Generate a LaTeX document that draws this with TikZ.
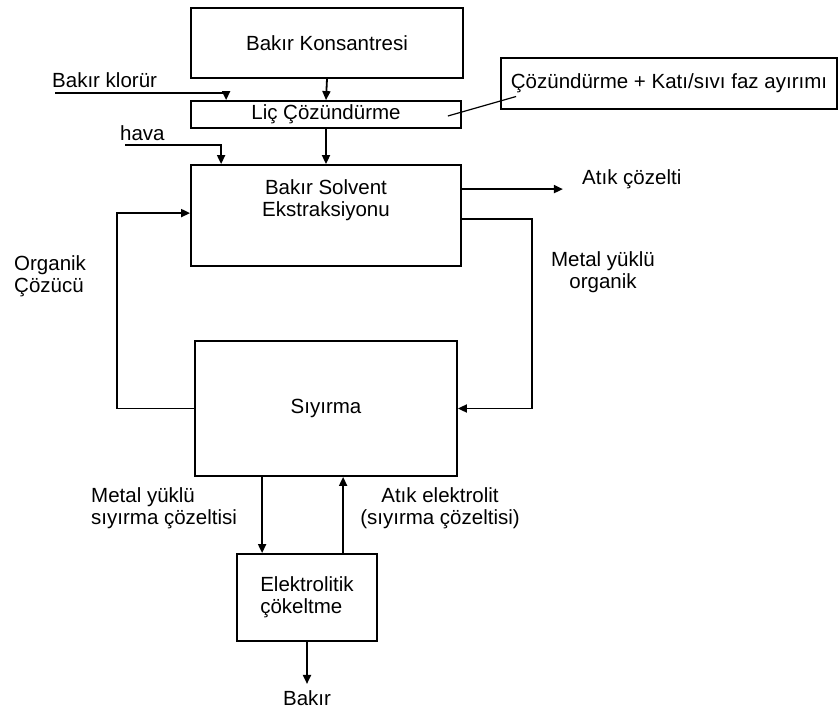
\documentclass[tikz,border=0pt]{standalone}
\usepackage{fontspec}
\setmainfont{Liberation Sans}
\usetikzlibrary{arrows.meta, positioning, calc}

\begin{document}
\begin{tikzpicture}[x=1pt, y=-1pt,
    box/.style = {draw=black, line width=1.8pt, inner sep=0pt, align=center},
    flow/.style = {draw=black, line width=1.8pt, -{Triangle[length=9pt, width=8pt]}},
    lbl/.style = {inner sep=0pt, align=center},
    font=\fontsize{20.5}{22}\selectfont
]
\useasboundingbox (0,0) rectangle (838,709);

% Process boxes
\node (kons) [box, minimum width=272pt, minimum height=70pt] at (327,43) {Bak\i r Konsantresi};
\node (lic) [box, minimum width=270pt, minimum height=27pt] at (326,114.5) {Li\c{c} \c{C}\"oz\"und\"urme};
\node (note) [box, minimum width=336pt, minimum height=51pt] at (669,83.5) {\c{C}\"oz\"und\"urme + Kat\i/s\i v\i{} faz ay\i r\i m\i};
\node (solv) [box, minimum width=270pt, minimum height=101pt] at (326,215.5) {};
\node (solvtxt) [lbl, below=15pt of solv.north] {Bak\i r Solvent\\Ekstraksiyonu};
\node (siy) [box, minimum width=262pt, minimum height=135pt] at (326,408.5) {S\i y\i rma};
\node (elek) [box, minimum width=140pt, minimum height=87pt, align=left] at (307,597.5) {Elektrolitik\\\c{c}\"okeltme};

% Free ends
\coordinate (klor) at (55,93);
\coordinate (hava) at (125,145);
\coordinate (atik) at ($(solv.north east)+(101,25)$);

% Labels
\node (klorlbl) [lbl, anchor=base west] at (52,88) {Bak\i r klor\"ur};
\node (havalbl) [lbl, anchor=base west] at (120,140) {hava};
\node (atiklbl) [lbl, anchor=west] at (582,179) {At\i k \c{c}\"ozelti};
\node (mylbl) [lbl] at (603,272) {Metal y\"ukl\"u\\organik};
\node (orglbl) [lbl, align=left, anchor=west] at (14,276) {Organik\\\c{C}\"oz\"uc\"u};
\node (sclbl) [lbl, align=left, anchor=west] at (91,508) {Metal y\"ukl\"u\\s\i y\i rma \c{c}\"ozeltisi};
\node (aelbl) [lbl] at (440,508) {At\i k elektrolit\\(s\i y\i rma \c{c}\"ozeltisi)};
\node (bakir) [lbl, anchor=base] at (307,705) {Bak\i r};

% Connections
\draw [flow] (kons.south) -- (lic.north);
\draw [flow] (lic.south) -- (solv.north);
\draw [flow] (klor) -| ($(lic.north west)+(36,0)$);
\draw [flow] (hava) -| ($(solv.north west)+(31,0)$);
\draw [flow] ($(solv.north east)+(0,25)$) -- (atik);
\draw [flow] ($(solv.north east)+(0,55)$) -- ++(70,0) |- (siy.east);
\draw [flow] (siy.west) -- ++(-77,0) |- ($(solv.north west)+(0,49)$);
\draw [flow] ($(siy.south west)+(68,0)$) -- ($(elek.north west)+(26,0)$);
\draw [flow] ($(elek.north west)+(107,0)$) -- ($(siy.south west)+(149,0)$);
\draw [flow] (elek.south) -- ($(bakir.north)+(0,-6)$);
\draw [line width=1.2pt] ($(lic.east)+(-14,1.5)$) -- ($(note.west)+(16,13)$);

\end{tikzpicture}
\end{document}
